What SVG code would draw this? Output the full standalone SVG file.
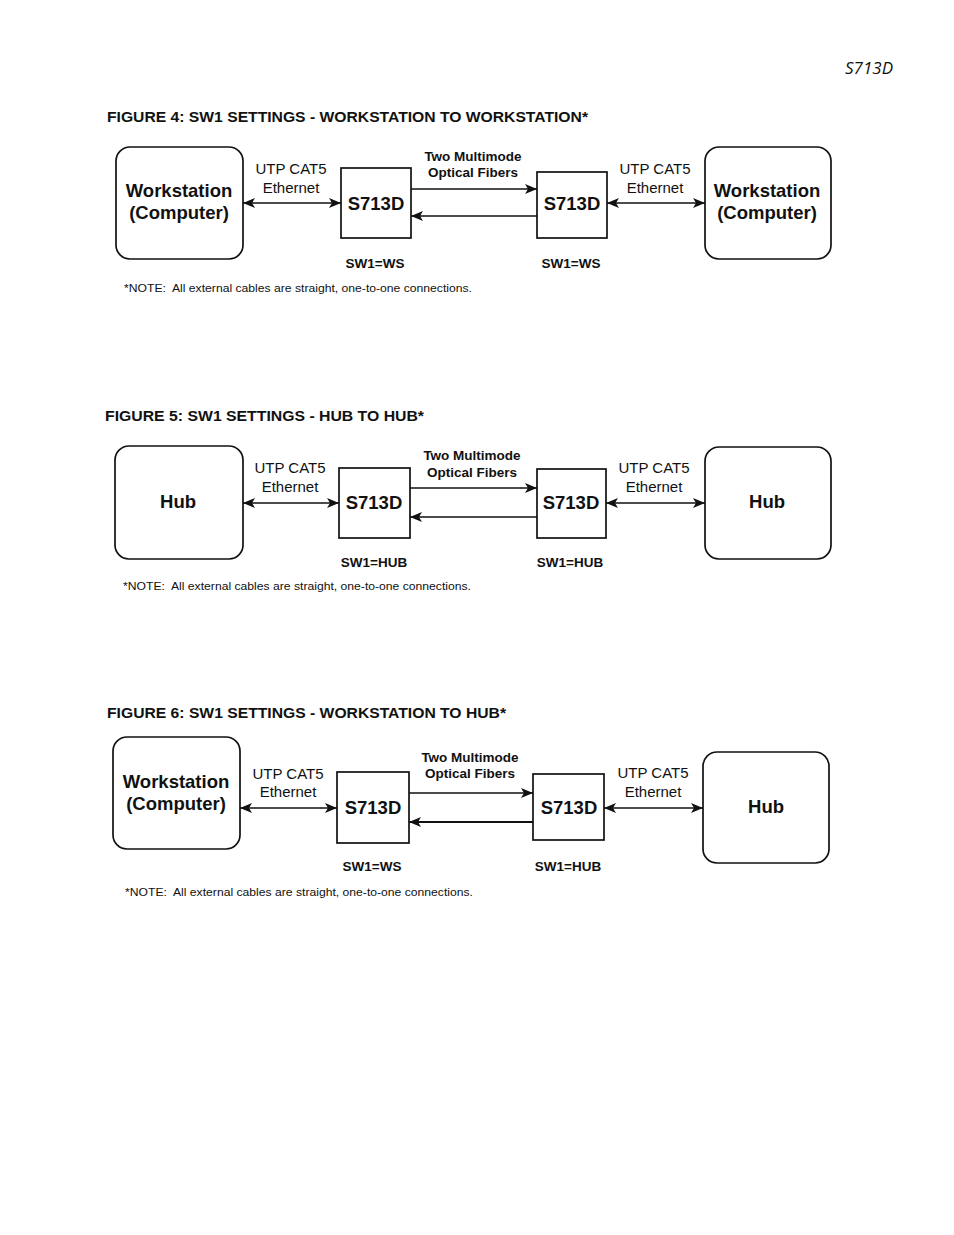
<svg xmlns="http://www.w3.org/2000/svg" width="954" height="1235" viewBox="0 0 954 1235">
<style>
text{font-family:"Liberation Sans",Arial,sans-serif;fill:#111}
.title{font-weight:bold;font-size:15.5px}
.big{font-weight:bold;font-size:18.5px;text-anchor:middle}
.lbl{font-size:15px;text-anchor:middle}
.fib{font-weight:bold;font-size:13.5px;text-anchor:middle}
.sw{font-weight:bold;font-size:13.5px;text-anchor:middle}
.note{font-size:11.5px;white-space:pre}
.node{fill:#fff;stroke:#111;stroke-width:1.7}
.con{stroke:#111;stroke-width:1.6;fill:none}
.dbl{marker-start:url(#ah);marker-end:url(#ah)}
.one{marker-end:url(#ah)}
</style>
<defs>
<marker id="ah" markerUnits="userSpaceOnUse" markerWidth="14" markerHeight="12" refX="12" refY="6" orient="auto-start-reverse">
<path d="M0,1 L12,6 L0,11 L3,6 z" fill="#111"/>
</marker>
</defs>
<rect width="954" height="1235" fill="#fff"/>
<text x="893" y="74" style="font-family:'Open Sans','Liberation Sans',sans-serif;font-style:italic;font-size:17px;text-anchor:end">S713D</text>

<!-- FIGURE 4 -->
<text class="title" x="107" y="122" textLength="481" lengthAdjust="spacingAndGlyphs">FIGURE 4: SW1 SETTINGS - WORKSTATION TO WORKSTATION*</text>
<g id="f4-ws-left"><rect class="node" x="116" y="147" width="127" height="112" rx="14"/><text class="big" x="179" y="197">Workstation</text><text class="big" x="179" y="219">(Computer)</text></g>
<g id="f4-s713d-1"><rect class="node" x="341" y="168" width="70" height="70"/><text class="big" x="376" y="210">S713D</text></g>
<g id="f4-s713d-2"><rect class="node" x="537" y="172" width="70" height="66"/><text class="big" x="572" y="210">S713D</text></g>
<g id="f4-ws-right"><rect class="node" x="705" y="147" width="126" height="112" rx="14"/><text class="big" x="767" y="197">Workstation</text><text class="big" x="767" y="219">(Computer)</text></g>
<g id="f4-connectors">
<line class="con dbl" x1="243" y1="203" x2="341" y2="203"/>
<line class="con one" x1="411" y1="189" x2="537" y2="189"/>
<line class="con one" x1="537" y1="216" x2="411" y2="216"/>
<line class="con dbl" x1="607" y1="203" x2="705" y2="203"/>
</g>
<text class="lbl" x="291" y="174">UTP CAT5</text><text class="lbl" x="291" y="193">Ethernet</text>
<text class="fib" x="473" y="161">Two Multimode</text><text class="fib" x="473" y="177">Optical Fibers</text>
<text class="lbl" x="655" y="174">UTP CAT5</text><text class="lbl" x="655" y="193">Ethernet</text>
<text class="sw" x="375" y="268">SW1=WS</text><text class="sw" x="571" y="268">SW1=WS</text>
<text class="note" xml:space="preserve" x="124" y="292" textLength="348" lengthAdjust="spacingAndGlyphs">*NOTE:  All external cables are straight, one-to-one connections.</text>

<!-- FIGURE 5 -->
<text class="title" x="105" y="421" textLength="319" lengthAdjust="spacingAndGlyphs">FIGURE 5: SW1 SETTINGS - HUB TO HUB*</text>
<g id="f5-hub-left"><rect class="node" x="115" y="446" width="128" height="113" rx="14"/><text class="big" x="178" y="508">Hub</text></g>
<g id="f5-s713d-1"><rect class="node" x="339" y="468" width="71" height="70"/><text class="big" x="374" y="509">S713D</text></g>
<g id="f5-s713d-2"><rect class="node" x="537" y="469" width="69" height="69"/><text class="big" x="571" y="509">S713D</text></g>
<g id="f5-hub-right"><rect class="node" x="705" y="447" width="126" height="112" rx="14"/><text class="big" x="767" y="508">Hub</text></g>
<g id="f5-connectors">
<line class="con dbl" x1="243" y1="503" x2="339" y2="503"/>
<line class="con one" x1="410" y1="488" x2="537" y2="488"/>
<line class="con one" x1="537" y1="517" x2="410" y2="517"/>
<line class="con dbl" x1="606" y1="503" x2="705" y2="503"/>
</g>
<text class="lbl" x="290" y="473">UTP CAT5</text><text class="lbl" x="290" y="492">Ethernet</text>
<text class="fib" x="472" y="460">Two Multimode</text><text class="fib" x="472" y="477">Optical Fibers</text>
<text class="lbl" x="654" y="473">UTP CAT5</text><text class="lbl" x="654" y="492">Ethernet</text>
<text class="sw" x="374" y="567">SW1=HUB</text><text class="sw" x="570" y="567">SW1=HUB</text>
<text class="note" xml:space="preserve" x="123" y="590" textLength="348" lengthAdjust="spacingAndGlyphs">*NOTE:  All external cables are straight, one-to-one connections.</text>

<!-- FIGURE 6 -->
<text class="title" x="107" y="718" textLength="399" lengthAdjust="spacingAndGlyphs">FIGURE 6: SW1 SETTINGS - WORKSTATION TO HUB*</text>
<g id="f6-ws-left"><rect class="node" x="113" y="737" width="127" height="112" rx="14"/><text class="big" x="176" y="788">Workstation</text><text class="big" x="176" y="810">(Computer)</text></g>
<g id="f6-s713d-1"><rect class="node" x="337" y="772" width="72" height="71"/><text class="big" x="373" y="814">S713D</text></g>
<g id="f6-s713d-2"><rect class="node" x="533" y="774" width="71" height="66"/><text class="big" x="569" y="814">S713D</text></g>
<g id="f6-hub-right"><rect class="node" x="703" y="752" width="126" height="111" rx="14"/><text class="big" x="766" y="813">Hub</text></g>
<g id="f6-connectors">
<line class="con dbl" x1="240" y1="808" x2="337" y2="808"/>
<line class="con one" x1="409" y1="793" x2="533" y2="793"/>
<line class="con one" x1="533" y1="822" x2="409" y2="822" style="stroke-width:2.2"/>
<line class="con dbl" x1="604" y1="808" x2="703" y2="808"/>
</g>
<text class="lbl" x="288" y="779">UTP CAT5</text><text class="lbl" x="288" y="797">Ethernet</text>
<text class="fib" x="470" y="762">Two Multimode</text><text class="fib" x="470" y="778">Optical Fibers</text>
<text class="lbl" x="653" y="778">UTP CAT5</text><text class="lbl" x="653" y="797">Ethernet</text>
<text class="sw" x="372" y="871">SW1=WS</text><text class="sw" x="568" y="871">SW1=HUB</text>
<text class="note" xml:space="preserve" x="125" y="896" textLength="348" lengthAdjust="spacingAndGlyphs">*NOTE:  All external cables are straight, one-to-one connections.</text>
</svg>
